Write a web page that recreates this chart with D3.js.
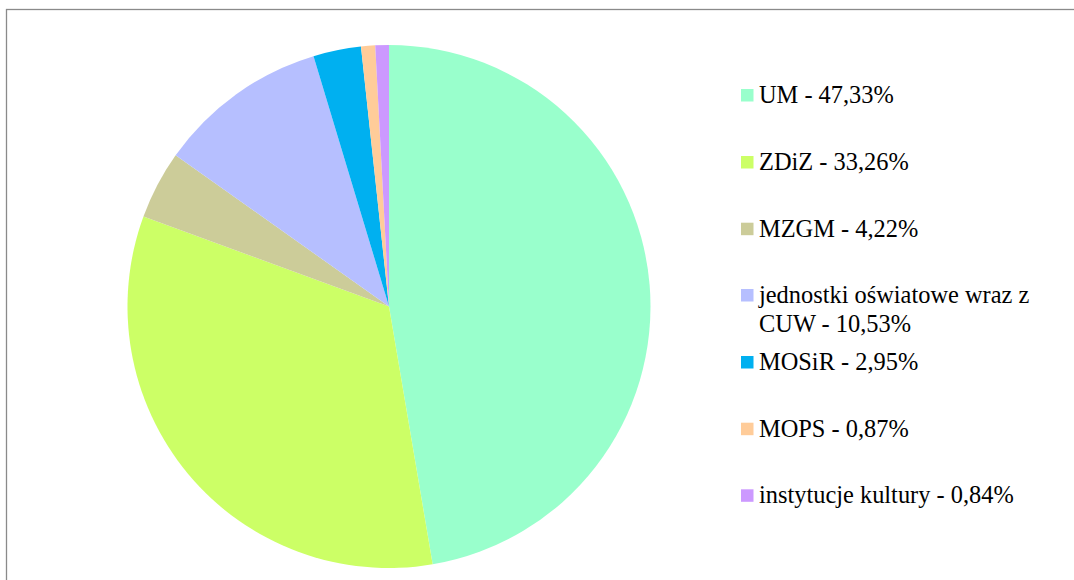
<!DOCTYPE html>
<html>
<head>
<meta charset="utf-8">
<script src="https://cdn.jsdelivr.net/npm/d3@7"></script>
<style>
html,body{margin:0;padding:0;background:#fff;overflow:hidden;}
svg{display:block;}
</style>
</head>
<body>
<svg id="chart" width="1074" height="580"></svg>
<script>
const categories = ["UM", "ZDiZ", "MZGM", "jednostki oświatowe wraz z CUW", "MOSiR", "MOPS", "instytucje kultury"];
const values = [47.33, 33.26, 4.22, 10.53, 2.95, 0.87, 0.84];
const valueLabels = ["47,33%", "33,26%", "4,22%", "10,53%", "2,95%", "0,87%", "0,84%"];
const legendLines = [
  ["UM - 47,33%"],
  ["ZDiZ - 33,26%"],
  ["MZGM - 4,22%"],
  ["jednostki oświatowe wraz z", "CUW - 10,53%"],
  ["MOSiR - 2,95%"],
  ["MOPS - 0,87%"],
  ["instytucje kultury - 0,84%"]
];
const colors = ["#99FFCC", "#CCFF66", "#CCCC99", "#B6BFFF", "#00B0F0", "#FFCC99", "#CC99FF"];

const svg = d3.select("#chart");

// outer border (extends past right & bottom edges)
svg.append("rect")
  .attr("x", 6.5).attr("y", 9.5)
  .attr("width", 1100).attr("height", 600)
  .attr("fill", "none").attr("stroke", "#8a8a8a").attr("stroke-width", 1.3);

const cx = 389, cy = 306.5, r = 261.5;
const data = values.map((v, i) => ({name: categories[i], value: v, lines: legendLines[i], color: colors[i]}));

const pie = d3.pie().value(d => d.value).sort(null);
const arc = d3.arc().innerRadius(0).outerRadius(r);

svg.append("g").attr("transform", `translate(${cx},${cy})`)
  .selectAll("path").data(pie(data)).join("path")
  .attr("d", arc)
  .attr("fill", d => d.data.color);

// legend
const legend = svg.append("g");
const baselines = [103, 170, 236.7, 303, 370, 436.7, 503.3];
const textX = 759, swX = 741, sw = 12.5, lineH = 28.7;
data.forEach((d, i) => {
  legend.append("rect").attr("x", swX).attr("y", baselines[i] - 14).attr("width", sw).attr("height", sw).attr("fill", d.color);
  d.lines.forEach((ln, j) => {
    legend.append("text")
      .attr("x", textX).attr("y", baselines[i] + j * lineH)
      .attr("font-size", 24.4)
      .attr("fill", "#000")
      .style("font-family", '"Liberation Serif"')
      .text(ln);
  });
});
</script>
</body>
</html>
